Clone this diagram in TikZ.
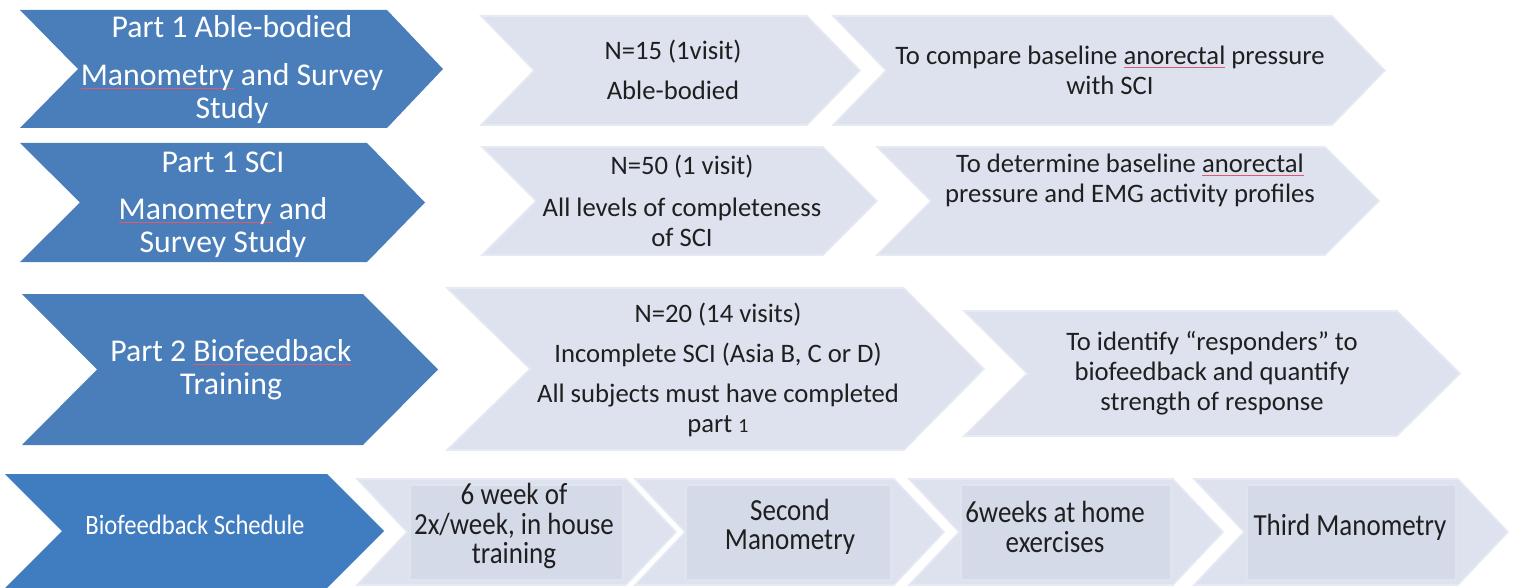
\documentclass[tikz,border=0pt]{standalone}
\usepackage{fontspec}
\setmainfont{Carlito}
\newfontfamily\condfont[FakeStretch=0.88]{Carlito}

\definecolor{chevblue}{HTML}{4A7EBB}
\definecolor{schedblue}{HTML}{3F7CC0}
\definecolor{chevgrey}{HTML}{DDE2EE}
\definecolor{chevedge}{HTML}{E6EAF3}
\definecolor{boxgrey}{HTML}{D4DAE8}
\definecolor{boxedge}{HTML}{DFE4EF}
\definecolor{txtdark}{HTML}{1F1F1F}
\definecolor{spellred}{HTML}{E05A6E}

% red spell-check line under a word
\newcommand{\spellmark}[1]{\setbox0\hbox{#1}\rlap{\color{spellred}\rule[-2.6pt]{\wd0}{0.7pt}}\box0\relax}

\tikzset{
  darkchev/.style={fill=chevblue, draw=none},
  lightchev/.style={fill=chevgrey, draw=chevedge, line width=1.2pt},
  innerbox/.style={fill=boxgrey, draw=boxedge, line width=0.8pt},
  headtxt/.style={text=white, inner sep=0pt, align=center, font=\fontsize{23.8}{24.8}\selectfont},
  bodytxt/.style={text=txtdark, inner sep=0pt, align=center, font=\fontsize{20}{22.5}\selectfont},
  schedtxt/.style={text=white, inner sep=0pt, align=center, font=\condfont\fontsize{21}{22}\selectfont},
  steptxt/.style={text=txtdark, inner sep=0pt, align=center, font=\condfont\fontsize{23}{22}\selectfont},
}

\begin{document}
\begin{tikzpicture}[x=0.75pt,y=0.75pt,yscale=-1]
\path[use as bounding box] (0,0) rectangle (1513,588); %set diagram to the size of the figure

%Chevron [row 1]
\draw[darkchev] (20,10) -- (387,10) -- (443,69) -- (387,128) -- (20,128) -- (78,69) -- cycle ;
%Chevron
\draw[lightchev] (481,16) -- (807,16) -- (860,70.5) -- (807,125) -- (481,125) -- (534,70.5) -- cycle ;
%Chevron
\draw[lightchev] (833,16) -- (1332,16) -- (1385,70.5) -- (1332,125) -- (833,125) -- (886,70.5) -- cycle ;

%Chevron [row 2]
\draw[darkchev] (20,143) -- (367,143) -- (425,202.5) -- (367,262) -- (20,262) -- (80,202.5) -- cycle ;
%Chevron
\draw[lightchev] (482,147) -- (823,147) -- (877,201) -- (823,255) -- (482,255) -- (536,201) -- cycle ;
%Chevron
\draw[lightchev] (877,147) -- (1325,147) -- (1379,201) -- (1325,255) -- (877,255) -- (931,201) -- cycle ;

%Chevron [row 3]
\draw[darkchev] (22,294) -- (363,294) -- (438,369.5) -- (363,445) -- (22,445) -- (97,369.5) -- cycle ;
%Chevron
\draw[lightchev] (447,288) -- (904,288) -- (984,369) -- (904,450) -- (447,450) -- (530,369) -- cycle ;
%Chevron
\draw[lightchev] (964,311) -- (1397,311) -- (1460,373.5) -- (1397,436) -- (964,436) -- (1027,373.5) -- cycle ;

%Chevron [row 4]
\draw[darkchev, fill=schedblue] (5,474) -- (327,474) -- (384,531) -- (327,588) -- (5,588) -- (62,531) -- cycle ;
%Chevron
\draw[lightchev] (357,479) -- (626,479) -- (676,532) -- (626,585) -- (357,585) -- (407,532) -- cycle ;
\draw[innerbox] (410,485) rectangle (623,580) ;
%Chevron
\draw[lightchev] (635,479) -- (894,479) -- (944,532) -- (894,585) -- (635,585) -- (685,532) -- cycle ;
\draw[innerbox] (686,485) rectangle (891,580) ;
%Chevron
\draw[lightchev] (909,479) -- (1173,479) -- (1223,532) -- (1173,585) -- (909,585) -- (959,532) -- cycle ;
\draw[innerbox] (961,485) rectangle (1171,580) ;
%Chevron
\draw[lightchev] (1194,479) -- (1458,479) -- (1508,532) -- (1458,585) -- (1194,585) -- (1244,532) -- cycle ;
\draw[innerbox] (1247,485) rectangle (1456,580) ;

% Text Node
\draw (232,27) node (able1) [headtxt] {Part 1 Able-bodied};
% Text Node
\draw (232,94) node (able2) [headtxt] {\spellmark{Manometry} and Survey\\Study};
% Text Node
\draw (223,162) node (sci1) [headtxt] {Part 1 SCI};
% Text Node
\draw (223,228) node (sci2) [headtxt] {\spellmark{Manometry} and\\Survey Study};
% Text Node
\draw (231,370) node (train) [headtxt] {Part 2 \spellmark{Biofeedback}\\Training};
% Text Node
\draw (195,525) node (sched) [schedtxt] {Biofeedback Schedule};

% Text Node
\draw (673,52) node (n15) [bodytxt] {N=15 (1visit)};
% Text Node
\draw (673,90) node (abl) [bodytxt] {Able-bodied};
% Text Node
\draw (1110,70) node (compare) [bodytxt] {To compare baseline \spellmark{anorectal} pressure\\with SCI};
% Text Node
\draw (682,167) node (n50) [bodytxt] {N=50 (1 visit)};
% Text Node
\draw (682,222) node (levels) [bodytxt] {All levels of completeness\\of SCI};
% Text Node
\draw (1130,180) node (determine) [bodytxt] {To determine baseline \spellmark{anorectal}\\pressure and EMG activity profiles};
% Text Node
\draw (718,315) node (n20) [bodytxt] {N=20 (14 visits)};
% Text Node
\draw (718,355) node (incomplete) [bodytxt] {Incomplete SCI (Asia B, C or D)};
% Text Node
\draw (718,410) node (subjects) [bodytxt] {All subjects must have completed\\part {\fontsize{15}{15}\selectfont 1}};
% Text Node
\draw (1212,373) node (identify) [bodytxt] {To identify “responders” to\\biofeedback and quantify\\strength of response};

% Text Node
\draw (514,526) node (inhouse) [steptxt] {6 week of\\2x/week, in house\\training};
% Text Node
\draw (790,527) node (second) [steptxt] {Second\\Manometry};
% Text Node
\draw (1055,527) node (home) [steptxt] {6weeks at home\\exercises};
% Text Node
\draw (1350,527) node (third) [steptxt] {Third Manometry};
\end{tikzpicture}
\end{document}
